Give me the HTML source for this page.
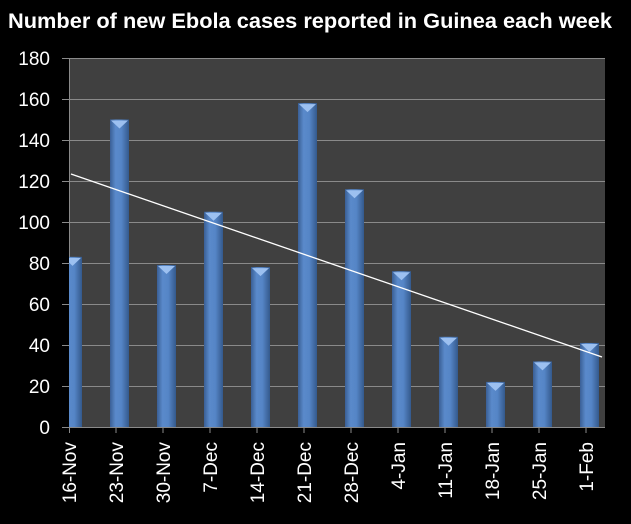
<!DOCTYPE html>
<html><head><style>
body{margin:0;background:#000;width:631px;height:519px;overflow:hidden}
svg text{font-family:"Liberation Sans",sans-serif;fill:#fff}
</style></head><body>
<svg width="631" height="519" xmlns="http://www.w3.org/2000/svg">
<defs>
<linearGradient id="g" x1="0" x2="1" y1="0" y2="0">
<stop offset="0" stop-color="#3a5f95"/><stop offset="0.3" stop-color="#5a8acb"/><stop offset="0.6" stop-color="#5585c6"/><stop offset="1" stop-color="#34598c"/>
</linearGradient>
<clipPath id="c"><rect x="69" y="50" width="540" height="380"/></clipPath>
</defs>
<text x="8" y="28" font-size="21" font-weight="bold" textLength="604" lengthAdjust="spacingAndGlyphs">Number of new Ebola cases reported in Guinea each week</text>
<rect x="69" y="58" width="536" height="369" fill="#404040"/>
<g stroke="#8a8a8a" stroke-width="1">
<line x1="62" x2="605" y1="58.5" y2="58.5"/><line x1="62" x2="605" y1="99.5" y2="99.5"/><line x1="62" x2="605" y1="140.5" y2="140.5"/><line x1="62" x2="605" y1="181.5" y2="181.5"/><line x1="62" x2="605" y1="222.5" y2="222.5"/><line x1="62" x2="605" y1="263.5" y2="263.5"/><line x1="62" x2="605" y1="304.5" y2="304.5"/><line x1="62" x2="605" y1="345.5" y2="345.5"/><line x1="62" x2="605" y1="386.5" y2="386.5"/><line x1="62" x2="605" y1="427.5" y2="427.5"/>
<line x1="69.5" x2="69.5" y1="58" y2="433"/>
</g>
<g stroke="#8a8a8a">
<line x1="116" x2="116" y1="427" y2="433"/><line x1="163" x2="163" y1="427" y2="433"/><line x1="210" x2="210" y1="427" y2="433"/><line x1="257" x2="257" y1="427" y2="433"/><line x1="304" x2="304" y1="427" y2="433"/><line x1="351" x2="351" y1="427" y2="433"/><line x1="398" x2="398" y1="427" y2="433"/><line x1="445" x2="445" y1="427" y2="433"/><line x1="492" x2="492" y1="427" y2="433"/><line x1="539" x2="539" y1="427" y2="433"/><line x1="586" x2="586" y1="427" y2="433"/>
</g>
<g font-size="19" text-anchor="end">
<text x="50" y="65">180</text><text x="50" y="106">160</text><text x="50" y="147">140</text><text x="50" y="188">120</text><text x="50" y="229">100</text><text x="50" y="270">80</text><text x="50" y="311">60</text><text x="50" y="352">40</text><text x="50" y="393">20</text><text x="50" y="434">0</text>
</g>
<g clip-path="url(#c)" id="bars"></g>
<line x1="71" y1="174" x2="602" y2="357" stroke="#fff" stroke-width="1.3"/>
<g font-size="19" text-anchor="end" id="lab"></g>
</svg>
<script>
var v=[83,150,79,105,78,158,116,76,44,22,32,41],l=["16-Nov","23-Nov","30-Nov","7-Dec","14-Dec","21-Dec","28-Dec","4-Jan","11-Jan","18-Jan","25-Jan","1-Feb"];
var b=document.getElementById("bars"),L=document.getElementById("lab"),s="",t="";
for(var i=0;i<12;i++){var x=63+47*i,y=427-v[i]*2.05,h=427-y;
s+='<rect x="'+x+'" y="'+y+'" width="19" height="'+h+'" fill="url(#g)"/>';
s+='<polygon points="'+(x+1)+','+(y+1)+' '+(x+18)+','+(y+1)+' '+(x+9.5)+','+(y+9)+'" fill="#9cc0f0"/>';
var tx=69+47*i+7;
t+='<text transform="translate('+tx+',442) rotate(-90)">'+l[i]+'</text>';}
b.innerHTML=s;L.innerHTML=t;
</script>
</body></html>
